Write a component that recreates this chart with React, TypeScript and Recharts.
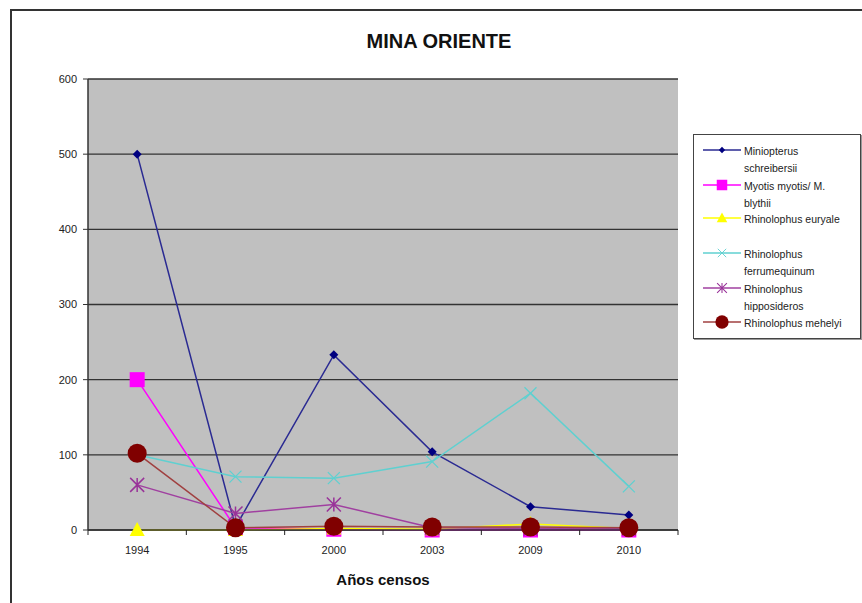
import { CartesianGrid, Line, LineChart, XAxis, YAxis } from "recharts";

const years = ["1994", "1995", "2000", "2003", "2009", "2010"];
const miniopterus = [500, 4, 233, 104, 31, 20];
const myotis = [200, 3, 1, 0, 0, 0];
const euryale = [0, 0, 2, 1, 8, 2];
const ferrumequinum = [100, 71, 69, 91, 182, 58];
const hipposideros = [60, 22, 34, 3, 2, 2];
const mehelyi = [102, 3, 5, 4, 4, 3];
const yTicks = [0, 100, 200, 300, 400, 500, 600];

const data = years.map((year, i) => ({
  year,
  miniopterus: miniopterus[i],
  myotis: myotis[i],
  euryale: euryale[i],
  ferrumequinum: ferrumequinum[i],
  hipposideros: hipposideros[i],
  mehelyi: mehelyi[i],
}));

const FONT = "'Liberation Sans', Arial, sans-serif";
const PLOT_W = 590;
const HALF_BAND = PLOT_W / years.length / 2;

function Diamond({ cx, cy, fill }: any) {
  const s = 4.5;
  return <path d={`M${cx},${cy - s}L${cx + s},${cy}L${cx},${cy + s}L${cx - s},${cy}Z`} fill={fill} />;
}
function Square({ cx, cy, fill }: any) {
  return <rect x={cx - 7.5} y={cy - 7.5} width={15} height={15} fill={fill} />;
}
function Triangle({ cx, cy, fill }: any) {
  return <path d={`M${cx},${cy - 8}L${cx + 7.5},${cy + 6}L${cx - 7.5},${cy + 6}Z`} fill={fill} />;
}
function Cross({ cx, cy, stroke }: any) {
  const s = 6;
  return (
    <path
      d={`M${cx - s},${cy - s}L${cx + s},${cy + s}M${cx - s},${cy + s}L${cx + s},${cy - s}`}
      stroke={stroke}
      strokeWidth={1.3}
      fill="none"
    />
  );
}
function Star({ cx, cy, stroke }: any) {
  const s = 7;
  return (
    <path
      d={`M${cx - s},${cy - s}L${cx + s},${cy + s}M${cx - s},${cy + s}L${cx + s},${cy - s}M${cx},${cy - s}L${cx},${cy + s}`}
      stroke={stroke}
      strokeWidth={1.5}
      fill="none"
    />
  );
}
function Circle({ cx, cy, fill }: any) {
  return <circle cx={cx} cy={cy} r={9.5} fill={fill} />;
}

const series = [
  { key: "miniopterus", name: ["Miniopterus", "schreibersii"], line: "#2a2a92", color: "#000080", Dot: Diamond },
  { key: "myotis", name: ["Myotis myotis/ M.", "blythii"], line: "#ff00ff", color: "#ff00ff", Dot: Square },
  { key: "euryale", name: ["Rhinolophus euryale"], line: "#ffff00", color: "#ffff00", Dot: Triangle },
  { key: "ferrumequinum", name: ["Rhinolophus", "ferrumequinum"], line: "#5fd0d0", color: "#5fd0d0", Dot: Cross },
  { key: "hipposideros", name: ["Rhinolophus", "hipposideros"], line: "#a040a0", color: "#993399", Dot: Star },
  { key: "mehelyi", name: ["Rhinolophus mehelyi"], line: "#a04040", color: "#800000", Dot: Circle },
];

function XTick({ x, y, payload, index }: any) {
  return (
    <g>
      <line x1={x - HALF_BAND} x2={x - HALF_BAND} y1={y} y2={y + 5} stroke="#222" />
      {index === years.length - 1 && (
        <line x1={x + HALF_BAND} x2={x + HALF_BAND} y1={y} y2={y + 5} stroke="#222" />
      )}
      <text x={x} y={y + 24} textAnchor="middle" fontSize={11} fill="#222" fontFamily={FONT}>
        {payload.value}
      </text>
    </g>
  );
}

const legendTops = [139, 174, 207, 242, 277, 311];

export default function App() {
  return (
    <div style={{ position: "absolute", left: 0, top: 0, width: 862, height: 603, background: "#fff", overflow: "hidden", fontFamily: FONT }}>
      <div style={{ position: "absolute", left: 10, top: 9, width: 900, height: 700, borderLeft: "2px solid #333", borderTop: "2px solid #333" }} />
      <div style={{ position: "absolute", left: 0, width: 878, top: 30, textAlign: "center", fontWeight: "bold", fontSize: 20, color: "#111" }}>
        MINA ORIENTE
      </div>
      <div style={{ position: "absolute", left: 88, width: PLOT_W, top: 571, textAlign: "center", fontWeight: "bold", fontSize: 15, color: "#111" }}>
        Años censos
      </div>
      <div style={{ position: "absolute", left: 0, top: 0 }}>
        <LineChart width={862} height={603} data={data} margin={{ top: 79, right: 184, bottom: 43, left: 0 }}>
          <CartesianGrid vertical={false} horizontal fill="#c0c0c0" stroke="#333" strokeWidth={1.3} />
          <XAxis
            dataKey="year"
            padding={{ left: HALF_BAND, right: HALF_BAND }}
            height={30}
            tickSize={0}
            tickMargin={0}
            tickLine={false}
            axisLine={{ stroke: "#333", strokeWidth: 1.5 }}
            tick={<XTick />}
            interval={0}
          />
          <YAxis
            width={88}
            domain={[0, 600]}
            ticks={yTicks}
            tickSize={5}
            tickMargin={6}
            tickLine={{ stroke: "#333" }}
            axisLine={{ stroke: "#333", strokeWidth: 1.5 }}
            tick={{ fontSize: 11, fill: "#222", fontFamily: FONT }}
          />
          {series.map((s) => (
            <Line
              key={s.key}
              dataKey={s.key}
              type="linear"
              stroke={s.line}
              strokeWidth={1.5}
              dot={<s.Dot fill={s.color} stroke={s.color} />}
              activeDot={false}
              isAnimationActive={false}
            />
          ))}
        </LineChart>
      </div>
      <div style={{ position: "absolute", left: 693, top: 134, width: 166, height: 203, border: "1px solid #444", background: "#fff", boxShadow: "1px 1px 0 #999" }}>
        {series.map((s, i) => (
          <div key={s.key} style={{ position: "absolute", left: 0, top: legendTops[i] - 134 }}>
            <svg width={40} height={20} style={{ position: "absolute", left: 8, top: 0 }}>
              <line x1={1} x2={39} y1={10} y2={10} stroke={s.line} strokeWidth={1.5} />
              <g transform="translate(20 10) scale(0.7) translate(-20 -10)">
                <s.Dot cx={20} cy={10} fill={s.color} stroke={s.color} />
              </g>
            </svg>
            <div style={{ position: "absolute", left: 50, top: 3, width: 115, fontSize: 10.5, lineHeight: "17px", color: "#222", whiteSpace: "nowrap" }}>
              {s.name.map((n) => (
                <div key={n}>{n}</div>
              ))}
            </div>
          </div>
        ))}
      </div>
    </div>
  );
}
